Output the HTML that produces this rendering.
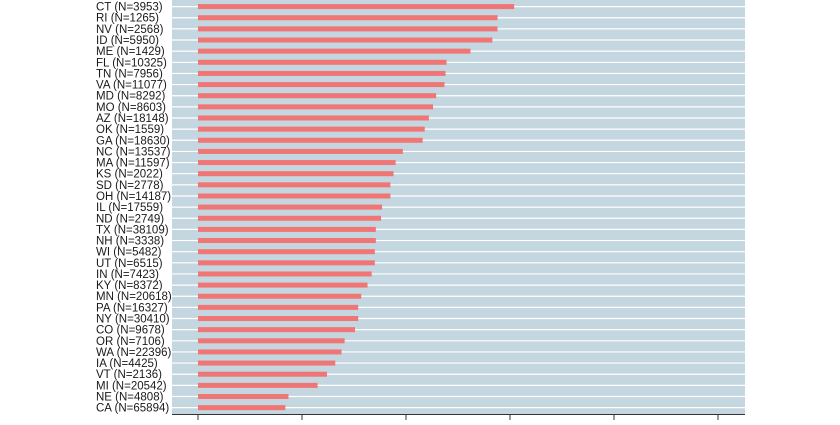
<!DOCTYPE html>
<html><head><meta charset="utf-8"><style>
body{margin:0;background:#fff;width:840px;height:420px;overflow:hidden}
svg text{font-family:"Liberation Sans",sans-serif;font-size:11.5px;fill:#1a1a1a}
</style></head><body>
<svg id="chart" width="840" height="420">
<rect x="172" y="0" width="573" height="414" fill="#c4d6df"/>
<g id="g"></g>
</svg>
<script>
const states=["CT","RI","NV","ID","ME","FL","TN","VA","MD","MO","AZ","OK","GA","NC","MA","KS","SD","OH","IL","ND","TX","NH","WI","UT","IN","KY","MN","PA","NY","CO","OR","WA","IA","VT","MI","NE","CA"];
const counts=[3953,1265,2568,5950,1429,10325,7956,11077,8292,8603,18148,1559,18630,13537,11597,2022,2778,14187,17559,2749,38109,3338,5482,6515,7423,8372,20618,16327,30410,9678,7106,22396,4425,2136,20542,4808,65894];
const values=[0.304,0.288,0.288,0.283,0.262,0.239,0.238,0.237,0.229,0.226,0.222,0.218,0.216,0.197,0.190,0.188,0.185,0.185,0.177,0.176,0.171,0.171,0.170,0.170,0.167,0.163,0.157,0.154,0.154,0.151,0.141,0.138,0.132,0.124,0.115,0.087,0.084];
const ticks=[0,0.1,0.2,0.3,0.4,0.5];
const NS="http://www.w3.org/2000/svg",g=document.getElementById('g');
const x=v=>198+v*1040, y=i=>6.6+i*11.14;
function mk(t,a){const e=document.createElementNS(NS,t);for(const k in a)e.setAttribute(k,a[k]);g.appendChild(e);return e;}
for(let i=-1;i<states.length;i++){
 const l=mk('line',{x1:172,x2:745,y1:y(i),y2:y(i),stroke:'#fff','stroke-width':1.2});
 
 
}
states.forEach((s,i)=>{
 const r=mk('rect',{x:x(0),y:y(i)-2.5,width:x(values[i])-x(0),height:5,fill:'#f07575'});
 
 
 const t=mk('text',{x:96,y:y(i)+4,'text-anchor':'start'});
 t.textContent=s+" (N="+counts[i]+")";
 
 
});
const ax=mk('line',{x1:172,x2:745,y1:414.5,y2:414.5,stroke:'#333','stroke-width':1});


ticks.forEach(v=>{
 const t=mk('line',{x1:x(v),x2:x(v),y1:414,y2:420,stroke:'#333','stroke-width':1});
 
 
});
</script>
</body></html>
